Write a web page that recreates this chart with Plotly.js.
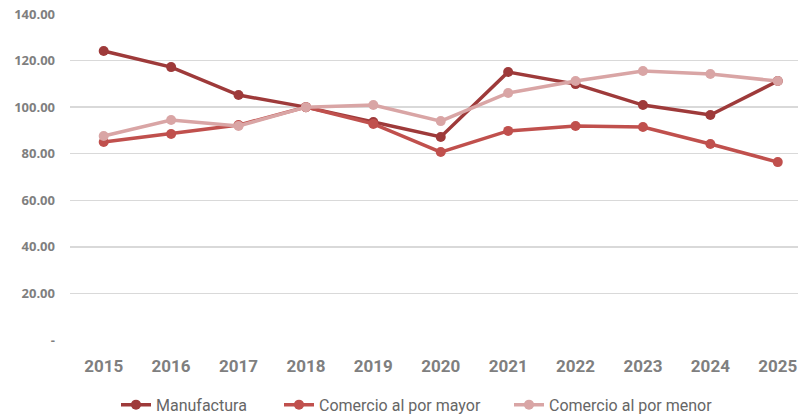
<!DOCTYPE html>
<html><head><meta charset="utf-8">
<script src="https://cdn.plot.ly/plotly-3.0.1.min.js"></script>
<style>html,body{margin:0;padding:0;background:#fff}</style>
</head><body>
<div id="chart" style="width:798px;height:419px"></div>
<script>
var years = ["2015","2016","2017","2018","2019","2020","2021","2022","2023","2024","2025"];
var manufactura = [124.1, 117.2, 105.2, 100.0, 93.6, 87.2, 115.1, 109.9, 100.9, 96.6, 111.2];
var mayor = [85.0, 88.5, 92.3, 100.0, 92.8, 80.7, 89.8, 91.9, 91.5, 84.2, 76.4];
var menor = [87.6, 94.5, 91.9, 100.0, 100.9, 94.0, 106.1, 111.2, 115.5, 114.2, 111.2];
var yTickVals = [0, 20, 40, 60, 80, 100, 120, 140];
var yTickText = ["-", "20.00", "40.00", "60.00", "80.00", "100.00", "120.00", "140.00"];

function tr(name, y, color, leg) {
  return {type:"scatter", mode:"lines+markers", name:name, x:years, y:y, legend:leg,
    line:{color:color, width:3.5}, marker:{color:color, size:10}};
}
var data = [
  tr("Manufactura", manufactura, "#9E3A3A", "legend"),
  tr("Comercio al por mayor", mayor, "#C0504D", "legend2"),
  tr("Comercio al por menor", menor, "#D9A5A5", "legend3")
];
function leg(xpx) {
  return {orientation:"h", x:xpx/798, xref:"container", xanchor:"left", y:0.034, yref:"container", yanchor:"middle",
    font:{family:"Roboto, sans-serif", size:16, color:"#666"}, itemwidth:30, bgcolor:"rgba(0,0,0,0)"};
}
var layout = {
  width:798, height:419,
  margin:{l:70, r:0, t:14, b:79},
  paper_bgcolor:"#fff", plot_bgcolor:"#fff",
  showlegend:true,
  legend:leg(116), legend2:leg(279), legend3:leg(509),
  xaxis:{type:"category", range:[-0.5, 10.3], showgrid:false, zeroline:false, showline:false, automargin:false,
    ticks:"", ticklabelstandoff:14,
    tickfont:{family:"Roboto, sans-serif", size:17, color:"#7F7F7F", weight:"bold"}},
  yaxis:{range:[0,140], tickvals:yTickVals, ticktext:yTickText, showgrid:true, gridcolor:"#D9D9D9", gridwidth:1.5,
    zeroline:false, showline:false, ticks:"", ticklen:0, automargin:false, ticklabelstandoff:14,
    tickfont:{family:"Open Sans, sans-serif", size:13, color:"#7F7F7F", weight:"bold"}}
};
Plotly.newPlot("chart", data, layout, {staticPlot:true, displayModeBar:false});
</script>
</body></html>
